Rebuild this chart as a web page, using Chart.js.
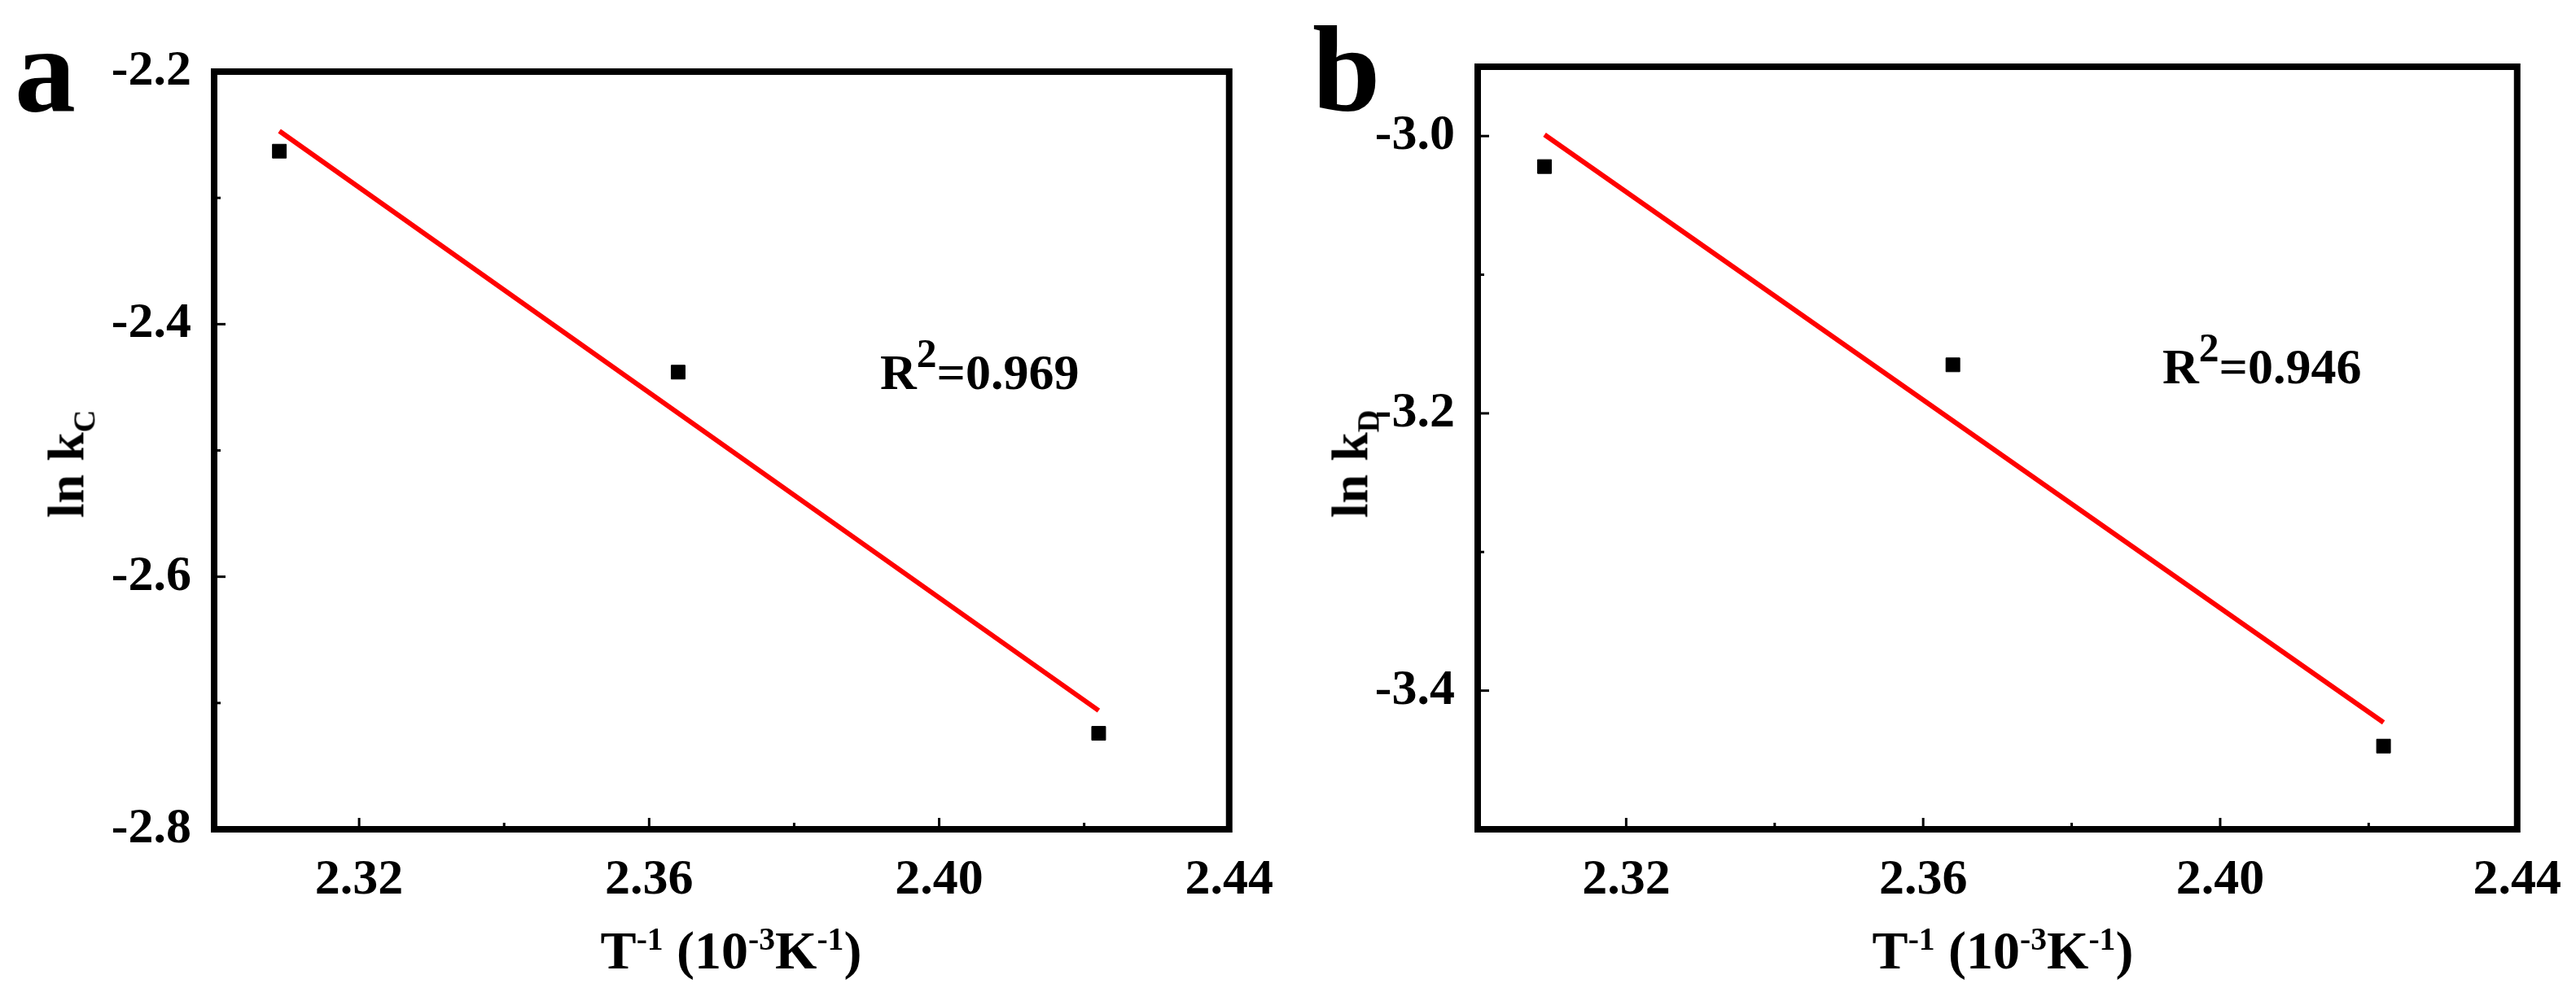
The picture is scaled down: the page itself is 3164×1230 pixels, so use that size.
<!DOCTYPE html>
<html><head><meta charset="utf-8">
<script src="https://cdn.jsdelivr.net/npm/chart.js@4"></script>
<style>
body{margin:0;background:#fff;width:3164px;height:1230px;position:relative;overflow:hidden;font-family:"Liberation Serif","DejaVu Serif",serif;font-weight:bold;color:#000}
.cv{position:absolute;top:0;width:1582px;height:1230px}
.lbl{position:absolute;white-space:nowrap;line-height:1}
.letter{font-size:150px}
.ytitle{font-size:64px;transform:translate(-50%,-50%) rotate(-90deg)}
.xtitle{font-size:66px;transform:translate(-50%,-50%)}
.r2{font-size:62px}
.r2 sup{font-size:80%;vertical-align:0.55em}
sup,sub{font-size:60%}
</style></head><body>
<div class="cv" style="left:0"><canvas id="ca"></canvas></div>
<div class="cv" style="left:1582px"><canvas id="cb"></canvas></div>
<div class="lbl letter" style="left:18px;top:10px">a</div>
<div class="lbl letter" style="left:1612px;top:10px">b</div>
<div class="lbl ytitle" style="left:86px;top:570px">ln k<sub>C</sub></div>
<div class="lbl ytitle" style="left:1663px;top:570px">ln k<sub>D</sub></div>
<div class="lbl xtitle" style="left:898px;top:1168px">T<sup>-1</sup> (10<sup>-3</sup>K<sup>-1</sup>)</div>
<div class="lbl xtitle" style="left:2460px;top:1168px">T<sup>-1</sup> (10<sup>-3</sup>K<sup>-1</sup>)</div>
<div class="lbl r2" style="left:1081px;top:410px">R<sup>2</sup>=0.969</div>
<div class="lbl r2" style="left:2656px;top:403px">R<sup>2</sup>=0.946</div>
<script>
const xPoints = [2.309, 2.364, 2.422];
const lnKC = [-2.263, -2.438, -2.724];
const lnKD = [-3.022, -3.165, -3.440];
const fitX = [2.309, 2.422];
const fitKC = [-2.247, -2.706];
const fitKD = [-2.999, -3.423];
const xTicks = [2.32, 2.36, 2.40, 2.44];
const xMinor = [2.34, 2.38, 2.42];
const yTicksA = [-2.8, -2.6, -2.4, -2.2];
const yMinorA = [-2.7, -2.5, -2.3];
const yTicksB = [-3.4, -3.2, -3.0];
const yMinorB = [-3.5, -3.3, -3.1];

const frame = {
    id: 'frame',
    afterDraw(chart) {
        const { ctx, chartArea: a, scales } = chart;
        const o = chart.options.plugins.frame;
        ctx.save();
        ctx.strokeStyle = '#000';
        ctx.lineWidth = 3;
        const tick = (v, len, axis) => {
            ctx.beginPath();
            if (axis === 'x') {
                const p = scales.x.getPixelForValue(v);
                ctx.moveTo(p, a.bottom); ctx.lineTo(p, a.bottom - len);
            } else {
                const p = scales.y.getPixelForValue(v);
                ctx.moveTo(a.left, p); ctx.lineTo(a.left + len, p);
            }
            ctx.stroke();
        };
        xTicks.forEach(v => tick(v, 14, 'x'));
        xMinor.forEach(v => tick(v, 8, 'x'));
        o.major.forEach(v => tick(v, 14, 'y'));
        o.minor.forEach(v => tick(v, 8, 'y'));
        ctx.lineWidth = 8;
        ctx.strokeRect(a.left, a.top, a.right - a.left, a.bottom - a.top);
        ctx.restore();
    }
};

function makeChart(id, yVals, fitVals, yMin, yMax, major, minor, left, right, top) {
    const tickFont = { family: 'Liberation Serif', weight: 'bold', size: 62 };
    return new Chart(document.getElementById(id), {
        type: 'scatter',
        data: {
            datasets: [
                { data: xPoints.map((x, i) => ({ x, y: yVals[i] })), pointStyle: 'rect', pointRadius: 12,
                  backgroundColor: '#000', borderColor: '#000' },
                { type: 'line', data: fitX.map((x, i) => ({ x, y: fitVals[i] })), borderColor: '#ff0000',
                  borderWidth: 6, pointRadius: 0, fill: false }
            ]
        },
        options: {
            responsive: true, maintainAspectRatio: false, animation: false,
            layout: { padding: { left: 0, right: right, top: top, bottom: 0 } },
            scales: {
                x: {
                    min: 2.30, max: 2.44,
                    afterBuildTicks: s => { s.ticks = xTicks.map(v => ({ value: v })); },
                    afterFit: s => { s.height = 211; },
                    grid: { display: false }, border: { display: false },
                    ticks: { color: '#000', font: tickFont, padding: 18, maxRotation: 0,
                             callback: v => Number(v).toFixed(2) }
                },
                y: {
                    min: yMin, max: yMax,
                    afterBuildTicks: s => { s.ticks = major.map(v => ({ value: v })); },
                    afterFit: s => { s.width = left; },
                    grid: { display: false }, border: { display: false },
                    ticks: { color: '#000', font: tickFont, padding: 20, callback: v => Number(v).toFixed(1) }
                }
            },
            plugins: { legend: { display: false }, tooltip: { enabled: false }, frame: { major, minor } }
        },
        plugins: [frame]
    });
}

makeChart('ca', lnKC, fitKC, -2.8, -2.2, yTicksA, yMinorA, 263, 42, 88);
makeChart('cb', lnKD, fitKD, -3.5, -2.95, yTicksB, yMinorB, 233, 54, 82);
</script>
</body></html>
